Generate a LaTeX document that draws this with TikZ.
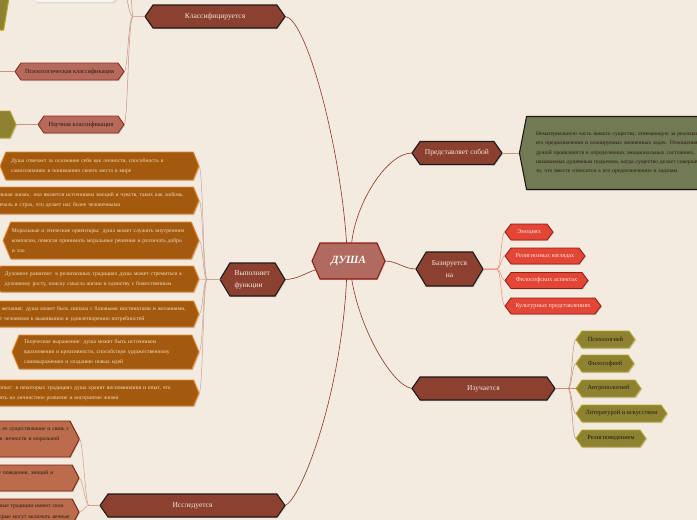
\documentclass[tikz,border=0pt]{standalone}
\usepackage{fontspec}
\setmainfont{Liberation Serif}
\usetikzlibrary{shapes.symbols,shadows}
\definecolor{bg}{HTML}{F3EBE0}
\definecolor{mainfill}{HTML}{8C4030}
\definecolor{mainline}{HTML}{1E1A18}
\definecolor{mtext}{HTML}{F4E6DC}
\definecolor{soulfill}{HTML}{B06A5E}
\definecolor{soulline}{HTML}{8E1C18}
\definecolor{conn}{HTML}{8E3426}
\definecolor{klconn}{HTML}{C8927F}
\definecolor{orconn}{HTML}{C9A497}
\definecolor{redconn}{HTML}{F2897C}
\definecolor{izconn}{HTML}{C48F7A}
\definecolor{isconn}{HTML}{D39E88}
\definecolor{redfill}{HTML}{E44636}
\definecolor{redline}{HTML}{8E1E1A}
\definecolor{olivefill}{HTML}{8C8232}
\definecolor{oliveline}{HTML}{B8A826}
\definecolor{orfill}{HTML}{A3590E}
\definecolor{orline}{HTML}{E58C33}
\definecolor{ortext}{HTML}{F4DEBE}
\definecolor{sifill}{HTML}{BA6C4C}
\definecolor{siline}{HTML}{7E2012}
\definecolor{salfill}{HTML}{B66A5B}
\definecolor{salline}{HTML}{8E2A22}
\definecolor{bigfill}{HTML}{727955}
\definecolor{darktext}{HTML}{2A1A10}
\definecolor{lightbox}{HTML}{F8F3EC}
\tikzset{
  hexa/.style={signal, signal to=west and east, inner sep=0pt, outer sep=0pt},
  shad/.style={drop shadow={shadow xshift=1pt, shadow yshift=-1pt, opacity=0.3}},
  mainbox/.style={hexa, shad, fill=mainfill, draw=mainline, line width=1.1pt, text=mtext,
    font=\fontsize{7.5}{12}\selectfont, signal pointer angle=110},
  soulbox/.style={hexa, shad, fill=soulfill, draw=soulline, line width=1.1pt, text=white,
    font=\fontsize{11}{13}\selectfont\bfseries\itshape, signal pointer angle=132},
  salbox/.style={hexa, shad, fill=salfill, draw=salline, line width=0.9pt, text=darktext,
    font=\fontsize{6.3}{8}\selectfont, signal pointer angle=110},
  redbox/.style={hexa, shad, fill=redfill, draw=redline, line width=0.9pt, text=mtext,
    font=\fontsize{6.2}{8}\selectfont, signal pointer angle=106},
  olivebox/.style={hexa, shad, fill=olivefill, draw=oliveline, line width=0.9pt, text=darktext,
    font=\fontsize{6.3}{8}\selectfont, signal pointer angle=110},
  orbox/.style={hexa, shad, fill=orfill, draw=orline, line width=0.9pt, text=ortext,
    font=\fontsize{5.6}{10}\selectfont, signal pointer angle=135, align=left},
  sibox/.style={hexa, shad, fill=sifill, draw=siline, line width=0.9pt, text=darktext,
    font=\fontsize{5.6}{10.5}\selectfont, signal pointer angle=125, align=left},
  mainconn/.style={draw=conn, line width=0.6pt},
  subconn/.style={line width=0.5pt},
}
\newcommand{\tline}[1]{\mbox{#1}}
\begin{document}
\begin{tikzpicture}[x=1pt,y=-1pt]
\useasboundingbox (0,0) rectangle (697,520);
\fill[bg] (0,0) rectangle (697,520);
\begin{scope}
\clip (0,0) rectangle (697,520);

% centre
\node[soulbox, minimum width=73pt, minimum height=36pt] (soul) at (348.5,261) {ДУША};

% main branches
\node[mainbox, minimum width=140pt, minimum height=23pt] (klass) at (215,16.5) {Классифицируется};
\node[mainbox, minimum width=90pt, minimum height=23pt] (predst) at (457,153) {Представляет собой};
\node[mainbox, minimum width=67pt, minimum height=34pt, signal pointer angle=118, align=center] (baz) at (449.5,269) {Базируется\\на};
\node[mainbox, minimum width=143pt, minimum height=23pt] (izuch) at (483.5,388.5) {Изучается};
\node[mainbox, minimum width=65pt, minimum height=33pt, signal pointer angle=118, align=left, text width=36pt] (vyp) at (252.5,279.5) {Выполняет\\функции};
\node[mainbox, minimum width=185pt, minimum height=23pt] (issl) at (192.5,505.5) {Исследуется};

% Классифицируется children
\node[hexa, fill=lightbox, draw=white!85!gray, line width=0.5pt, shad, minimum width=94pt, minimum height=24pt, signal pointer angle=110] (topbox) at (75,-10) {};
\node[signal, signal to=east, inner sep=0pt, fill=olivefill, draw=oliveline, line width=1pt, minimum width=134pt, minimum height=80pt, signal pointer angle=161] (ytop) at (-60,-10) {};
\node[salbox, minimum width=109pt, minimum height=17pt] (psycl) at (69.5,71.5) {Психологическая классификация};
\node[salbox, minimum width=86pt, minimum height=17pt] (nauchk) at (81,124.5) {Научная классификация};
\node[olivebox, minimum width=80pt, minimum height=27pt, signal pointer angle=132] (oln) at (-24,124.5) {};
\coordinate (jk) at (133,16.5);
\coordinate (offtop) at (125,-60);
\coordinate (offpsy) at (-20,71.5);

% Представляет собой
\node[signal, signal to=west, inner sep=0pt, shad, fill=bigfill, draw=mainline, line width=1.1pt,
  minimum width=240pt, minimum height=73pt, signal pointer angle=158, text=darktext,
  font=\fontsize{5.6}{9.3}\selectfont, align=left, text width=214pt] (big) at (643,153)
  {\tline{Нематериальную часть живого существа, отвечающую за реализацию}\\
   \tline{его предназначения и планируемых жизненных задач. Отношения с}\\
   \tline{душой проявляются в определенных эмоциональных состояниях,}\\
   \tline{называемых душевным подъемом, когда существо делает совершенно}\\
   \tline{то, что вместе относится к его предназначению и задачам.}};

% Базируется на
\node[redbox, minimum width=48pt, minimum height=16pt] (emo) at (529,232) {Эмоциях};
\node[redbox, minimum width=80pt, minimum height=16pt] (relv) at (545,256) {Религиозных взглядах};
\node[redbox, minimum width=83pt, minimum height=16pt] (phila) at (546.5,280.5) {Философских аспектах};
\node[redbox, minimum width=96pt, minimum height=16pt] (cult) at (553,306) {Культурных представлениях};
\coordinate (jb) at (497,269);

% Изучается
\node[olivebox, minimum width=59pt, minimum height=17pt] (psy) at (605.5,339.5) {Психологией};
\node[olivebox, minimum width=58pt, minimum height=17pt] (philo) at (605,363.5) {Философией};
\node[olivebox, minimum width=65pt, minimum height=17pt] (anthro) at (608.5,388.5) {Антропологией};
\node[olivebox, minimum width=91pt, minimum height=17pt] (lit) at (621.5,413.5) {Литературой и искусством};
\node[olivebox, minimum width=70pt, minimum height=17pt] (relig) at (611,438.5) {Религиоведением};
\coordinate (ji) at (568,388.5);

% Выполняет функции
\node[orbox, minimum width=199pt, minimum height=28pt, text width=177pt] (o1) at (99.5,166)
  {\tline{Душа отвечает за осознание себя как личности, способность к}\\\tline{самосознанию и пониманию своего места в мире}};
\node[orbox, minimum width=234pt, minimum height=27pt, text width=214pt] (o2) at (82,200.5)
  {\tline{Эмоциональная жизнь: она является источником эмоций и чувств, таких как любовь,}\\\tline{радость, печаль и страх, что делает нас более человечными}};
\node[orbox, minimum width=196pt, minimum height=37pt, text width=178pt] (o3) at (101,240.5)
  {\tline{Моральные и этические ориентиры: душа может служить внутренним}\\\tline{компасом, помогая принимать моральные решения и различать добро}\\\tline{и зло}};
\node[orbox, minimum width=204pt, minimum height=26pt, text width=184pt] (o4) at (97,279)
  {\tline{Духовное развитие: в религиозных традициях душа может стремиться к}\\\tline{духовному росту, поиску смысла жизни и единству с божественным}};
\node[orbox, minimum width=242pt, minimum height=26pt, text width=220pt] (o5) at (78,314)
  {\tline{Инстинкты и желания: душа может быть связана с базовыми инстинктами и желаниями,}\\\tline{которые ведут человеком к выживанию и удовлетворению потребностей}};
\node[orbox, minimum width=187pt, minimum height=34pt, text width=163pt] (o6) at (105.5,352)
  {\tline{Творческое выражение: душа может быть источником}\\\tline{вдохновения и креативности, способствуя художественному}\\\tline{самовыражению и созданию новых идей}};
\node[orbox, minimum width=235pt, minimum height=26pt, text width=213pt] (o7) at (81.5,393)
  {\tline{Память и опыт: в некоторых традициях душа хранит воспоминания и опыт, что}\\\tline{может влиять на личностное развитие и восприятие жизни}};
\coordinate (jv) at (207,279.5);

% Исследуется
\node[sibox, minimum width=198pt, minimum height=36pt, text width=180pt] (b1) at (-20,439)
  {\tline{Философия: рассматриваются природа души, ее существование и связь с}\\\tline{телом, а также ее значение для формирования личности и моральной}\\\tline{ответственности}};
\node[sibox, minimum width=198pt, minimum height=26pt, text width=180pt] (b2) at (-20,478)
  {\tline{Психология: влияние души на формирование поведения, эмоций и}\\\tline{мышления}};
\node[sibox, minimum width=198pt, minimum height=26pt, text width=180pt] (b3) at (-20,512)
  {\tline{Религиоведение: различные религии и духовные традиции имеют свои}\\\tline{представления о природе и судьбе души, которые могут включать вечные}};
\coordinate (js) at (89,505.5);

% main connectors
\draw[mainconn] (soul.96) .. controls +(-7,-103) and +(20,0) .. (klass.east);
\draw[mainconn] (soul.80) .. controls +(4,-40) and +(-25,0) .. (predst.west);
\draw[mainconn] (soul.east) .. controls +(12,0) and +(-12,0) .. (baz.west);
\draw[mainconn] (soul.-80) .. controls +(8,50) and +(-20,-3) .. (izuch.west);
\draw[mainconn] (soul.-96) .. controls +(-6,121) and +(15,-5) .. (issl.east);
\draw[mainconn] (soul.195) .. controls +(-10,3) and +(12,0) .. (vyp.east);

% Классифицируется connectors
\draw[subconn, draw=klconn] (klass.west) -- (jk) .. controls +(-5,0) and +(6,0) .. (topbox.east);
\draw[subconn, draw=klconn] (jk) .. controls +(-2,0) and +(6,0) .. (offtop);
\draw[subconn, draw=klconn] (jk) .. controls +(-5,0) and +(4,0) .. (psycl.east);
\draw[subconn, draw=klconn] (jk) .. controls +(-5,0) and +(4,0) .. (nauchk.east);
\draw[subconn, draw=klconn] (psycl.west) -- (offpsy);
\draw[subconn, draw=klconn] (nauchk.west) -- (oln.east);

% Представляет собой
\draw[subconn, draw=klconn] (predst.east) -- (big.west);

% Базируется connectors
\foreach \c in {emo,relv,phila,cult}
  \draw[subconn, draw=redconn] (baz.east) -- (jb) .. controls +(4,0) and +(-4,0) .. (\c.west);

% Изучается connectors
\foreach \c in {psy,philo,anthro,lit,relig}
  \draw[subconn, draw=izconn] (izuch.east) -- (ji) .. controls +(4,0) and +(-4,0) .. (\c.west);

% Выполняет функции connectors
\foreach \c in {o1,o2,o3,o4,o5,o6,o7}
  \draw[subconn, draw=orconn] (vyp.west) -- (jv) .. controls +(-4,0) and +(4,0) .. (\c.east);

% Исследуется connectors
\foreach \c in {b1,b2,b3}
  \draw[subconn, draw=isconn] (issl.west) -- (js) .. controls +(-4,0) and +(4,0) .. (\c.east);
\end{scope}
\end{tikzpicture}
\end{document}
